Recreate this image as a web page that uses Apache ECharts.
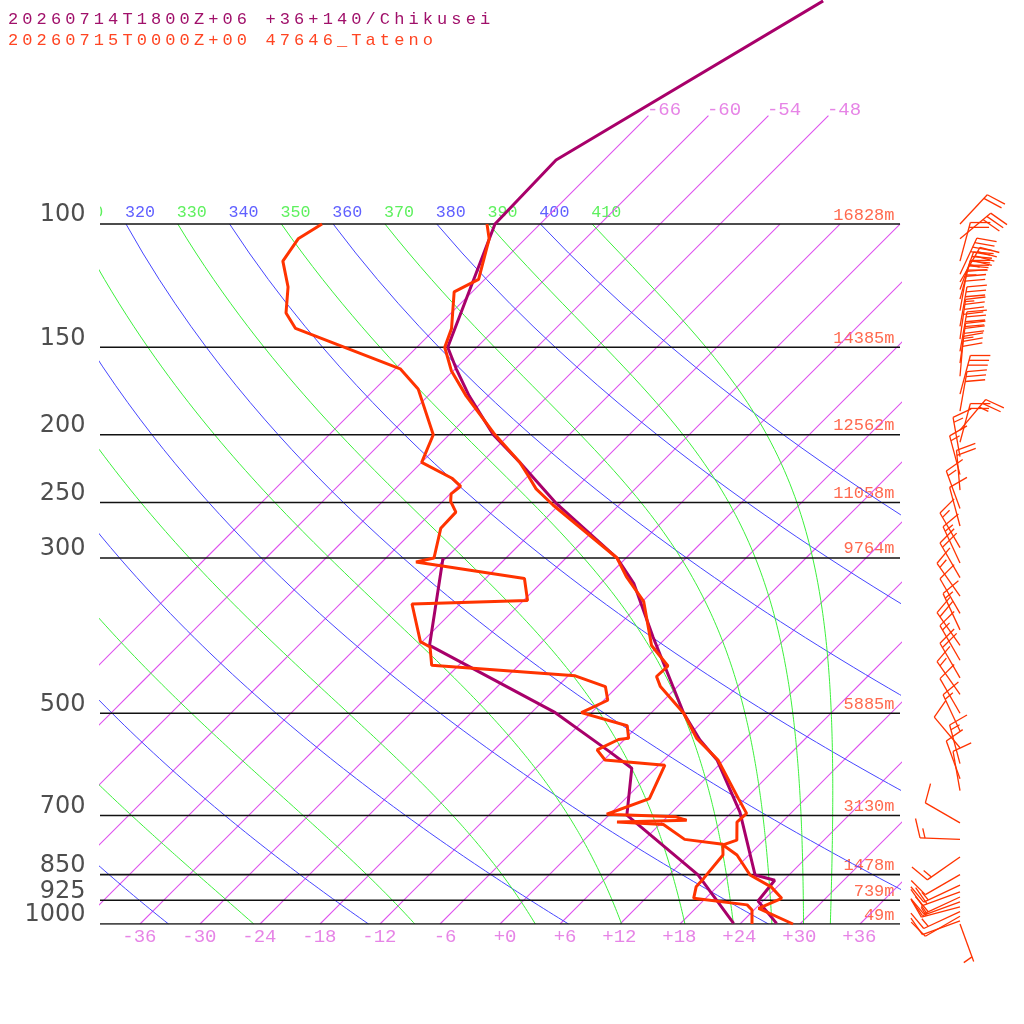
<!DOCTYPE html>
<html>
<head>
<meta charset="utf-8">
<script src="https://cdn.jsdelivr.net/npm/echarts@6/dist/echarts.min.js"></script>
<style>
html, body { margin: 0; background: #fff; }
#myChart { width: 1024px; height: 1024px; }
</style>
</head>
<body>
<div id="myChart"></div>
<script>
// titles
var titleModel = '20260714T1800Z+06 +36+140/Chikusei';
var titleObs = '20260715T0000Z+00 47646_Tateno';

// standard levels and their heights
var levels = [100, 150, 200, 250, 300, 500, 700, 850, 925, 1000];
var levelHeights = [16828, 14385, 12562, 11058, 9764, 5885, 3130, 1478, 739, 49];

// temperature tick labels at 1000 hPa
var tempTicks = [-36, -30, -24, -18, -12, -6, 0, 6, 12, 18, 24, 30, 36];
var isotherms = [-66, -60, -54, -48, -42, -36, -30, -24, -18, -12, -6, 0, 6, 12, 18, 24, 30, 36];
var isothermTopLabels = [-66, -60, -54, -48];

// potential temperature lines (K)
var dryThetas = [240, 260, 280, 300, 320, 340, 360, 380, 400];
var moistThetas = [250, 270, 290, 310, 330, 350, 370, 390, 410];

// forecast at Chikusei (purple)
var modelP = [48, 81, 100, 150, 161, 176, 200, 219, 250, 300, 326, 389, 500, 546, 583, 692, 851, 866, 927, 998];
var modelT = [-60.0, -70.8, -70.5, -62.9, -59.9, -55.9, -49.6, -44.2, -36.6, -24.9, -20.7, -13.4, -2.7, 1.6, 5.3, 12.8, 20.6, 23.1, 23.5, 27.6];
var modelTdP = [300, 400, 499, 564, 599, 699, 851, 998];
var modelTd = [-42.3, -34.9, -15.6, -6.7, -2.4, 1.8, 14.9, 23.3];

// observation at Tateno (red)
var obsP = [100, 105, 120, 125, 141, 150, 162, 176, 199, 219, 228, 239, 252, 300, 319, 346, 400, 428, 443, 458,
            500, 543, 583, 662, 695, 715, 759, 771, 797, 851, 885, 919, 950, 1000];
var obsT = [-71.3, -69.6, -66.6, -67.8, -64.4, -63.2, -60.2, -56.2, -49.7, -44.2, -42.2, -39.9, -36.6, -24.9, -22.1, -17.9, -12.7, -9.0, -9.1, -7.7,
            -2.7, 1.1, 5.4, 11.3, 13.6, 13.5, 15.3, 14.4, 16.8, 20.1, 23.4, 25.6, 24.3, 29.3];
var obsTdP = [100, 105, 113, 123, 134, 141, 161, 172, 200, 219, 231, 237, 243, 249, 258, 272, 300, 304, 321, 345,
              349, 395, 402, 427, 442, 458, 479, 499, 521, 543, 545, 564, 583, 593, 662, 697, 703, 711, 715, 721,
              757, 769, 797, 860, 885, 919, 939, 955, 1000];
var obsTd = [-87.8, -88.7, -88.0, -84.9, -82.5, -80.0, -65.5, -61.7, -55.6, -54.0, -49.3, -47.7, -47.9, -47.2, -45.6, -45.5, -43.2, -44.6, -32.1, -29.6,
             -40.8, -36.2, -34.7, -32.7, -17.3, -13.2, -11.6, -13.0, -7.1, -5.7, -6.6, -7.7, -5.9, 0.6, 2.4, -0.3, 6.9, 8.3, 1.5, 6.4,
             10.0, 14.3, 15.4, 15.8, 15.9, 16.8, 22.8, 23.8, 25.2];

// observed winds (direction from, knots)
var windP = [100, 105, 113, 118, 121, 124, 128, 133, 140, 146, 152, 158, 165, 175, 185, 197, 205, 215, 228, 240,
             255, 270, 290, 305, 320, 340, 360, 380, 400, 420, 445, 470, 500, 530, 560, 590, 620, 645, 717, 757,
             802, 850, 880, 900, 915, 930, 945, 960, 975, 990, 1000];
var windDir = [43, 50, 15, 25, 30, 20, 15, 10, 10, 8, 10, 8, 5, 15, 10, 40, 15, 350, 345, 355,
               340, 345, 330, 335, 330, 325, 330, 335, 325, 330, 330, 325, 330, 335, 320, 345, 340, 350, 300, 272,
               235, 240, 245, 250, 245, 250, 255, 245, 240, 250, 160];
var windKt = [20, 30, 20, 40, 45, 40, 35, 30, 35, 40, 40, 35, 30, 30, 30, 25, 20, 15, 15, 20,
              15, 10, 15, 15, 20, 15, 10, 15, 20, 15, 20, 15, 10, 15, 10, 15, 10, 10, 10, 15,
              15, 10, 15, 20, 20, 15, 15, 15, 10, 10, 5];

var SKEW = 70;        // degrees of skew per decade of pressure
var P_TOP = 47.86;    // pressure at the top edge of the diagram
var BARB_X = 46;      // column of the wind barbs
var KAPPA = 0.2857, RD = 287.04, CP = 1005.7, LV = 2.501e6, EPS = 0.622;
var MONO = '"Liberation Mono", monospace';
var ISO_COLOR = 'rgb(222, 84, 238)';

function skewX(t, p) {
    return t + SKEW * Math.log10(1000 / p);
}
function thetaTemp(theta, p) {
    return theta * Math.pow(p / 1000, KAPPA) - 273.15;
}
function moistLapse(tk, p) {
    var es = 6.112 * Math.exp(17.67 * (tk - 273.15) / (tk - 29.65));
    var rs = EPS * es / (p - es);
    return (RD * tk + LV * rs) / (p * (CP + LV * LV * rs * EPS / (RD * tk * tk)));
}
function dryCurve(theta) {
    var pts = [];
    for (var p = 1000; p >= 100; p -= 10) pts.push([skewX(thetaTemp(theta, p), p), p]);
    return pts;
}
function moistCurve(theta) {
    // pseudo-adiabat starting on the dry adiabat at 100 hPa
    var p = 100, tk = thetaTemp(theta, p) + 273.15, dp = 5;
    var pts = [[skewX(tk - 273.15, p), p]];
    while (p < 1000) {
        var k1 = moistLapse(tk, p);
        var k2 = moistLapse(tk + k1 * dp / 2, p + dp / 2);
        var k3 = moistLapse(tk + k2 * dp / 2, p + dp / 2);
        var k4 = moistLapse(tk + k3 * dp, p + dp);
        tk += dp * (k1 + 2 * k2 + 2 * k3 + k4) / 6;
        p += dp;
        pts.push([skewX(tk - 273.15, p), p]);
    }
    return pts;
}
function isothermLine(t) {
    var top = t <= -48 ? 70 : 100;
    var pts = [];
    for (var p = 1000; p > top; p -= 50) pts.push([skewX(t, p), p]);
    pts.push([skewX(t, top), top]);
    return pts;
}
function profile(ps, ts) {
    return ps.map(function (p, i) { return [skewX(ts[i], p), p]; });
}
function bgLine(data, color, width) {
    return {
        type: 'line', data: data, symbol: 'none', silent: true, color: color,
        lineStyle: { color: color, width: width || 1 }
    };
}
function fmtTemp(t) {
    return (t >= 0 ? '+' : '-') + Math.abs(t);
}

// the two title lines are drawn letter-spaced
var spacedText = {};
spacedText[titleModel] = spacedText[titleObs] = true;
var fillText0 = CanvasRenderingContext2D.prototype.fillText;
CanvasRenderingContext2D.prototype.fillText = function (text) {
    if (spacedText[text] && 'letterSpacing' in this) {
        this.save();
        this.letterSpacing = '4.1px';
        fillText0.apply(this, arguments);
        this.restore();
        return;
    }
    return fillText0.apply(this, arguments);
};

function renderThetaLabel(color) {
    return function (params, api) {
        var pt = api.coord([api.value(0), api.value(1)]);
        var cs = params.coordSys;
        return {
            type: 'group',
            clipPath: { type: 'rect', shape: { x: cs.x, y: 0, width: cs.width, height: cs.y + cs.height } },
            children: [{
                type: 'text', x: pt[0] - 1, y: pt[1] - 11.5,
                style: { text: String(api.value(2)), fill: color, font: '16.7px ' + MONO, align: 'left', verticalAlign: 'middle' }
            }]
        };
    };
}

function renderBarb(params, api) {
    var base = api.coord([api.value(0), api.value(1)]);
    var d = api.value(2) * Math.PI / 180, kt = api.value(3);
    var ux = Math.sin(d), uy = -Math.cos(d);
    var a = 75 * Math.PI / 180;
    var fx = ux * Math.cos(a) - uy * Math.sin(a);
    var fy = ux * Math.sin(a) + uy * Math.cos(a);
    var tip = [base[0] + ux * 40, base[1] + uy * 40];
    var style = { stroke: '#ff3300', lineWidth: 1.3 };
    var kids = [{ type: 'line', shape: { x1: base[0], y1: base[1], x2: tip[0], y2: tip[1] }, style: style }];
    var n10 = Math.floor(kt / 10), n5 = kt % 10 >= 5 ? 1 : 0;
    for (var i = 0; i < n10; i++) {
        var sx = tip[0] - ux * 5 * i, sy = tip[1] - uy * 5 * i;
        kids.push({ type: 'line', shape: { x1: sx, y1: sy, x2: sx + fx * 20, y2: sy + fy * 20 }, style: style });
    }
    if (n5) {
        var j = n10 === 0 ? 1 : n10;
        var hx = tip[0] - ux * 5 * j, hy = tip[1] - uy * 5 * j;
        kids.push({ type: 'line', shape: { x1: hx, y1: hy, x2: hx + fx * 10, y2: hy + fy * 10 }, style: style });
    }
    return { type: 'group', children: kids };
}

var myChart = echarts.init(document.getElementById('myChart'));
var series = [];

// isotherms: -66 .. -48 run up to 70 hPa, the rest stop at 100 hPa
isotherms.forEach(function (t) { series.push(bgLine(isothermLine(t), ISO_COLOR, 1.1)); });
dryThetas.forEach(function (th) { series.push(bgLine(dryCurve(th), '#4646ff', 1)); });
moistThetas.forEach(function (th) { series.push(bgLine(moistCurve(th), '#3cf03c', 1)); });
levels.forEach(function (p) { series.push(bgLine([[-40, p], [40, p]], '#111', 1.6)); });

[[modelP, modelT], [modelTdP, modelTd]].forEach(function (s) {
    series.push({ type: 'line', data: profile(s[0], s[1]), symbol: 'none', silent: true, color: '#a8006a',
        lineStyle: { color: '#a8006a', width: 3 } });
});
[[obsP, obsT], [obsTdP, obsTd]].forEach(function (s) {
    series.push({ type: 'line', data: profile(s[0], s[1]), symbol: 'none', silent: true, color: '#ff3300',
        lineStyle: { color: '#ff3300', width: 3 } });
});

// text labels placed through the axes
series.push({
    type: 'scatter', clip: false, silent: true, symbolSize: 1, itemStyle: { color: 'rgba(0,0,0,0)' },
    data: levels.map(function (p) { return [-40, p]; }),
    label: { show: true, position: [-14, -8.5], align: 'right', verticalAlign: 'middle',
        formatter: function (o) { return String(o.value[1]); },
        fontFamily: '"DejaVu Sans", sans-serif', fontSize: 24, color: '#222' }
});
series.push({
    type: 'scatter', clip: false, silent: true, symbolSize: 1, itemStyle: { color: 'rgba(0,0,0,0)' },
    data: levels.map(function (p, i) { return [40, p, levelHeights[i]]; }),
    label: { show: true, position: [-5, -8.5], align: 'right', verticalAlign: 'middle',
        formatter: function (o) { return o.value[2] + 'm'; },
        fontFamily: MONO, fontSize: 17, color: '#ff4422' }
});
series.push({
    type: 'scatter', clip: false, silent: true, symbolSize: 1, itemStyle: { color: 'rgba(0,0,0,0)' },
    data: tempTicks.map(function (t) { return [skewX(t, 1000), 1000, t]; }),
    label: { show: true, position: [17, 13], align: 'right', verticalAlign: 'middle',
        formatter: function (o) { return fmtTemp(o.value[2]); },
        fontFamily: MONO, fontSize: 19, color: '#e065e0' }
});
series.push({
    type: 'scatter', clip: false, silent: true, symbolSize: 1, itemStyle: { color: 'rgba(0,0,0,0)' },
    data: isothermTopLabels.map(function (t) { return [skewX(t, 70), 70, t]; }),
    label: { show: true, position: [-1, -5], align: 'left', verticalAlign: 'middle',
        formatter: function (o) { return fmtTemp(o.value[2]); },
        fontFamily: MONO, fontSize: 19, color: '#e065e0' }
});
series.push({
    type: 'custom', silent: true, renderItem: renderThetaLabel('#6060ff'),
    data: dryThetas.map(function (th) { return [skewX(thetaTemp(th, 100), 100), 100, th]; })
});
series.push({
    type: 'custom', silent: true, renderItem: renderThetaLabel('#5ef05e'),
    data: moistThetas.map(function (th) { return [skewX(thetaTemp(th, 100), 100), 100, th]; })
});
series.push({
    type: 'custom', silent: true, renderItem: renderBarb,
    data: windP.map(function (p, i) { return [BARB_X, p, windDir[i], windKt[i]]; })
});

var option = {
    animation: false,
    backgroundColor: '#fff',
    grid: { left: 100, right: 124, top: 0, bottom: 100 },
    xAxis: { type: 'value', min: -40, max: 40, show: false },
    yAxis: { type: 'log', logBase: 10, min: P_TOP, max: 1000, inverse: true, show: false },
    graphic: [
        { type: 'text', x: 8, y: 19, style: { text: titleModel, font: '17px ' + MONO, fill: '#a0106a', verticalAlign: 'middle' } },
        { type: 'text', x: 8, y: 40, style: { text: titleObs, font: '17px ' + MONO, fill: '#ff4422', verticalAlign: 'middle' } }
    ],
    series: series
};

myChart.setOption(option);
</script>
</body>
</html>
